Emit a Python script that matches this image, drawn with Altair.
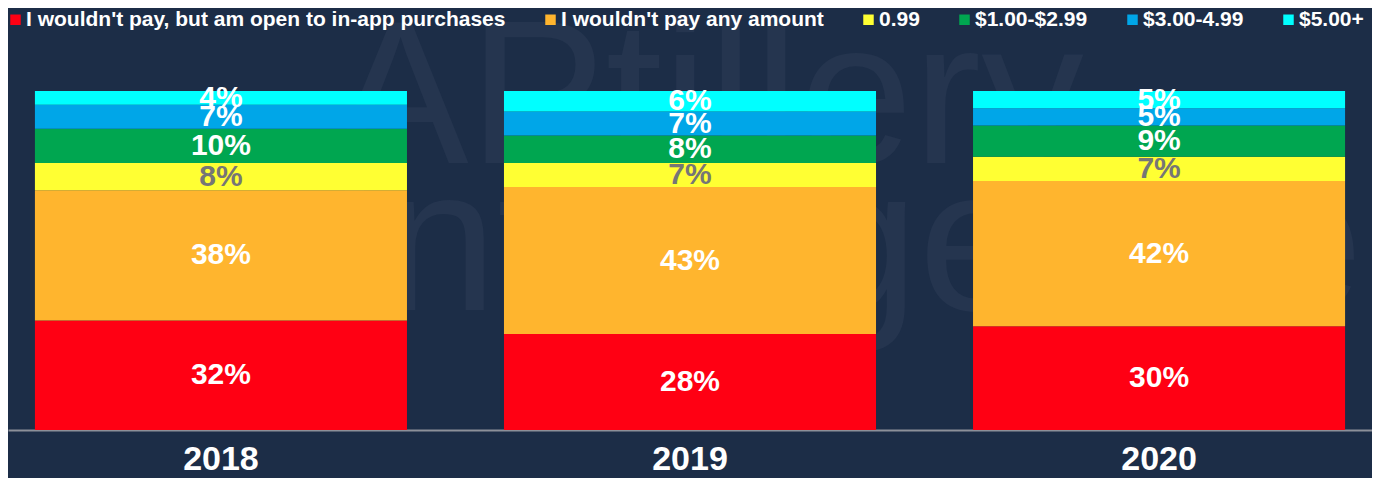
import altair as alt
import pandas as pd

# ---- data ----
years = ["2018", "2019", "2020"]
categories = [
    "I wouldn't pay, but am open to in-app purchases",
    "I wouldn't pay any amount",
    "0.99",
    "$1.00-$2.99",
    "$3.00-4.99",
    "$5.00+",
]
v_inapp = [32, 28, 30]
v_none = [38, 43, 42]
v_099 = [8, 7, 7]
v_1_299 = [10, 8, 9]
v_3_499 = [7, 7, 5]
v_5plus = [4, 6, 5]
colors = ["#ff0013", "#ffb52e", "#ffff33", "#00a650", "#00a6e8", "#00ffff"]
watermark_1 = ["APtillery"]
watermark_2 = ["Intelligence"]

series = [v_inapp, v_none, v_099, v_1_299, v_3_499, v_5plus]
rows = []
for ci, (cat, vals) in enumerate(zip(categories, series)):
    for yi, yr in enumerate(years):
        rows.append({"year": yr, "cat": cat, "idx": ci, "v": vals[yi]})
df = pd.DataFrame(rows)

FONT = "Liberation Sans"
BG = "#1c2d47"
WM = "#25354f"

xenc = alt.X(
    "year:N",
    sort=years,
    scale=alt.Scale(paddingInner=0.2068, paddingOuter=0.0574),
    axis=alt.Axis(
        title=None, labelAngle=0, labelFontSize=34, labelFontWeight="bold",
        labelColor="white", labelFont=FONT, labelPadding=12, ticks=False,
        domainColor="#8c9099", domainWidth=2, grid=False,
    ),
)
yscale = alt.Scale(domain=[0, 1], nice=False, zero=True)

base = alt.Chart(df).transform_stack(
    stack="v", groupby=["year"], as_=["y0", "y1"], offset="normalize",
    sort=[alt.SortField("idx", order="ascending")],
).transform_calculate(
    mid="(datum.y0 + datum.y1) / 2", label="datum.v + '%'"
)

bars = base.mark_bar().encode(
    x=xenc,
    y=alt.Y("y0:Q", scale=yscale, axis=None),
    y2="y1:Q",
    color=alt.Color(
        "cat:N",
        sort=categories,
        scale=alt.Scale(domain=categories, range=colors),
        legend=alt.Legend(
            title=None, orient="none", direction="horizontal", columns=6,
            legendX=-3, legendY=-82, padding=0,
            symbolType="square", symbolSize=110, symbolStrokeWidth=0,
            labelFont=FONT, labelFontSize=21, labelFontWeight="bold",
            labelColor="white", labelLimit=1000, labelOffset=0,
            columnPadding=34,
        ),
    ),
)

labels = base.mark_text(
    font=FONT, fontSize=30, fontWeight="bold", baseline="middle", align="center"
).encode(
    x=xenc,
    y=alt.Y("mid:Q", scale=yscale, axis=None),
    text="label:N",
    color=alt.condition(alt.datum.cat == "0.99", alt.value("#767676"), alt.value("white")),
)

wm1 = alt.Chart(pd.DataFrame({"t": watermark_1})).mark_text(
    font=FONT, fontSize=205, align="left", baseline="alphabetic", color=WM
).encode(text="t:N", x=alt.value(324), y=alt.value(72))

wm2 = alt.Chart(pd.DataFrame({"t": watermark_2})).mark_text(
    font=FONT, fontSize=205, align="left", baseline="alphabetic", color=WM
).encode(text="t:N", x=alt.value(318), y=alt.value(219))

chart = alt.layer(wm1, wm2, bars, labels).properties(
    width=1364, height=339,
    padding={"top": 83, "bottom": 48, "left": 0, "right": 0},
    autosize=alt.AutoSizeParams(type="none"),
).configure(background=BG).configure_view(stroke=None)

chart.save("out.html", embed_options={"renderer": "svg", "actions": False})
